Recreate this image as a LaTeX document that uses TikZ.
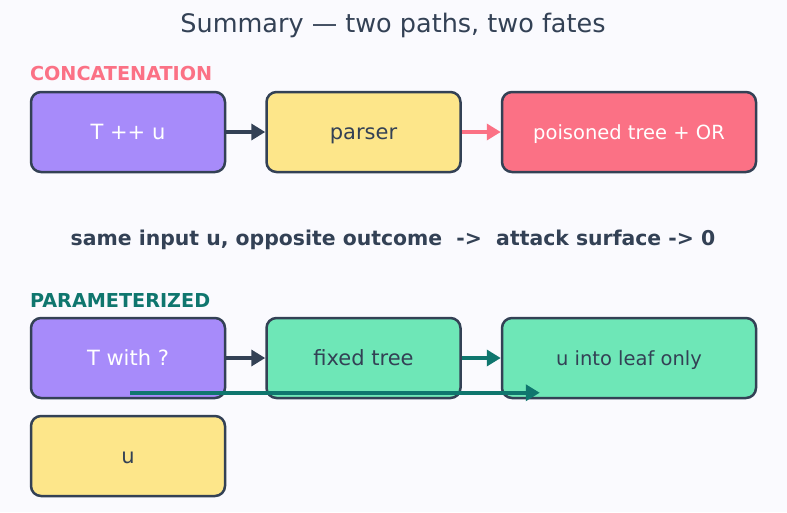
\documentclass[tikz,border=0pt]{standalone}
\usepackage{fontspec}
\setmainfont{DejaVu Sans}
\usetikzlibrary{positioning,arrows.meta}

\definecolor{ink}{HTML}{334155}
\definecolor{violet}{HTML}{A78BFA}
\definecolor{sand}{HTML}{FDE68A}
\definecolor{rose}{HTML}{FB7185}
\definecolor{mint}{HTML}{6EE7B7}
\definecolor{pine}{HTML}{0F766E}
\definecolor{paper}{HTML}{FAFAFE}

\begin{document}
\begin{tikzpicture}[x=1pt, y=-1pt,
          box/.style={rectangle, rounded corners=10pt, draw=ink, line width=2.5pt,
            minimum width=194pt, minimum height=80pt, inner sep=0pt, text=ink,
            text height=17pt, text depth=3pt,
            font=\fontsize{21}{25}\selectfont},
          widebox/.style={box, minimum width=254pt},
          heading/.style={anchor=west, font=\bfseries\fontsize{19.2}{23}\selectfont},
          arrow/.style={-{Triangle[length=14pt, width=16pt]}, line width=3.5pt, draw=ink},
          node distance=39pt
        ]
          \fill[paper] (0,0) rectangle (787,512);
          \useasboundingbox (0,0) rectangle (787,512);

          \node (title) at (393,25) {\fontsize{25.5}{30}\selectfont\color{ink}Summary — two paths, two fates};

          % concatenation row
          \node[heading, text=rose] (concat) at (26.5,74) {CONCATENATION};
          \node[box, fill=violet, text=white] (tu) at (128,132) {T ++ u};
          \node[box, fill=sand, right=of tu] (parser) {parser};
          \node[widebox, fill=rose, text=white, right=of parser, font=\fontsize{19.5}{23}\selectfont] (poison) {poisoned tree + OR};

          \draw[arrow] (tu) -- (parser);
          \draw[arrow, draw=rose] (parser) -- (poison);

          \node[font=\bfseries\fontsize{20.4}{24}\selectfont, text=ink] (moral) at (393,240)
            {same input u, opposite outcome\ \ ->\ \ attack surface -> 0};

          % parameterized row
          \node[heading, text=pine] (param) at (26.5,300) {PARAMETERIZED};
          \node[box, fill=violet, text=white] (tq) at (128,358) {T with ?};
          \node[box, fill=mint, right=of tq] (fixed) {fixed tree};
          \node[widebox, fill=mint, right=of fixed, font=\fontsize{19.5}{23}\selectfont] (leaf) {u into leaf only};
          \node[box, fill=sand, below=15.5pt of tq] (u) {u};

          \draw[arrow] (tq) -- (fixed);
          \draw[arrow, draw=pine] (fixed) -- (leaf);

          \coordinate (ufeed) at ([xshift=2pt, yshift=22pt]u.north);
          \coordinate (leafin) at ([xshift=39pt]leaf.west |- ufeed);
          \draw[arrow, draw=pine] (ufeed) -- (leafin);
\end{tikzpicture}
\end{document}
